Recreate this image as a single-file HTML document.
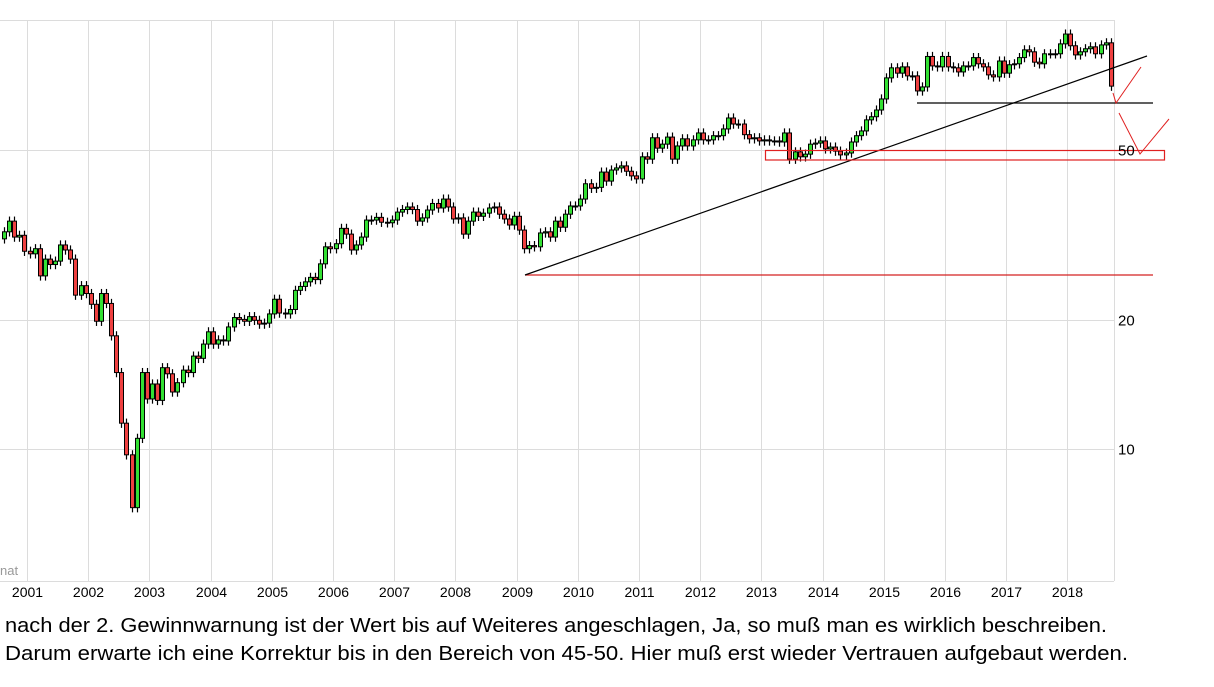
<!DOCTYPE html>
<html><head><meta charset="utf-8"><style>
html,body{margin:0;padding:0;background:#fff;}
svg{display:block;}
</style></head><body>
<svg id="chart" width="1214" height="687" xmlns="http://www.w3.org/2000/svg" font-family="Liberation Sans, sans-serif">
<g id="grid"></g>
<g id="candles"></g>
<g id="overlays"></g>
<g id="axes"></g>
<text x="0" y="575" font-size="13" fill="#999">nat</text>
<text x="5" y="632" font-size="20" fill="#000" textLength="1102" lengthAdjust="spacingAndGlyphs">nach der 2. Gewinnwarnung ist der Wert bis auf Weiteres angeschlagen, Ja, so muß man es wirklich beschreiben.</text>
<text x="5" y="660" font-size="20" fill="#000" textLength="1123" lengthAdjust="spacingAndGlyphs">Darum erwarte ich eine Korrektur bis in den Bereich von 45-50. Hier muß erst wieder Vertrauen aufgebaut werden.</text>
</svg>
<script>
const startYear = 2000, startMonth = 7; // first candle Aug 2000 (0-based month)
const firstOpen = 31.0;
const closes = [
32.2,34.1,31.3,31.6,29.0,28.6,29.4,25.4,27.8,27.0,
27.5,30.0,29.2,27.8,22.9,24.1,23.1,21.8,19.9,23.1,
21.9,18.4,15.1,11.5,9.7,7.3,10.6,15.1,13.1,14.2,
13.0,15.5,15.0,13.6,14.3,15.3,15.1,16.5,16.3,17.6,
18.8,17.6,18.0,17.9,19.3,20.3,20.1,19.9,20.4,20.0,
19.6,19.7,20.7,22.4,20.8,20.7,21.2,23.5,24.0,24.6,
25.2,24.9,
27.1,29.7,29.4,30.2,32.8,31.8,29.2,30.0,31.3,34.3,
34.3,34.8,33.9,33.8,34.3,35.8,36.3,36.8,36.3,34.1,
34.7,36.2,37.5,36.6,38.4,36.8,34.5,34.7,31.8,34.1,
35.8,35.0,35.6,36.6,36.8,35.4,34.5,33.4,35.0,32.5,
29.4,29.9,29.7,32.0,32.2,31.3,34.1,33.0,35.4,37.0,
37.0,38.4,
41.7,40.7,40.9,44.4,42.3,44.9,45.4,45.9,44.6,43.5,
42.8,48.2,47.6,53.4,50.5,51.6,53.6,47.6,51.1,53.1,
51.1,52.8,54.8,52.8,52.8,54.0,54.0,56.0,59.4,57.5,
57.5,54.3,53.1,53.4,52.5,52.8,52.5,52.5,52.2,54.8,
47.6,49.5,48.2,48.9,51.6,51.9,52.5,50.3,50.8,49.7,
48.7,49.2,52.2,54.0,55.4,
58.8,59.8,62.0,65.8,73.7,77.8,75.6,78.2,74.5,74.5,
68.7,70.2,82.7,78.6,78.2,82.7,78.2,77.8,76.1,78.6,
78.6,82.2,79.5,78.2,74.9,74.1,80.7,75.6,79.1,79.5,
82.2,85.7,84.8,80.2,79.5,83.9,83.9,83.9,88.5,93.3,
87.6,83.4,84.8,86.2,87.1,83.9,88.0,89.0,70.5
];
const yTicks = [10, 20, 50];
const yearTicks = [2001,2002,2003,2004,2005,2006,2007,2008,2009,2010,2011,2012,2013,2014,2015,2016,2017,2018];

const NS = "http://www.w3.org/2000/svg";
const PLOT = {left:0, right:1114, top:20, bottom:581};
function yScale(v){ return 150 - 428*(Math.log10(v) - Math.log10(50)); }
function xScale(t){ return 27 + (t - 2001)*61.2; } // t = fractional year
function mk(tag, attrs, parent){ const e=document.createElementNS(NS,tag); for(const k in attrs) e.setAttribute(k,attrs[k]); parent.appendChild(e); return e; }

const grid = document.getElementById('grid');
const axes = document.getElementById('axes');
const cg = document.getElementById('candles');
const ov = document.getElementById('overlays');

mk('line',{x1:0,y1:PLOT.top+0.5,x2:PLOT.right,y2:PLOT.top+0.5,stroke:'#dcdcdc','stroke-width':1},grid);
yearTicks.forEach(yr=>{
  const x = Math.round(xScale(yr))+0.5;
  const l = mk('line',{x1:x,y1:PLOT.top,x2:x,y2:PLOT.bottom,stroke:'#dcdcdc','stroke-width':1},grid);
  
  
  const t = mk('text',{x:x,y:597,'font-size':14,'text-anchor':'middle',fill:'#000'},axes);
  t.textContent = yr;
  
  
});
yTicks.forEach(v=>{
  const y = Math.round(yScale(v))+0.5;
  const l = mk('line',{x1:0,y1:y,x2:PLOT.right,y2:y,stroke:'#dcdcdc','stroke-width':1},grid);
  
  
  const t = mk('text',{x:1118,y:y+5,'font-size':15,fill:'#000'},axes);
  t.textContent = v;
  
  
});
mk('line',{x1:PLOT.right+0.5,y1:PLOT.top,x2:PLOT.right+0.5,y2:PLOT.bottom,stroke:'#dcdcdc','stroke-width':1},grid);
mk('line',{x1:0,y1:PLOT.bottom+0.5,x2:PLOT.right,y2:PLOT.bottom+0.5,stroke:'#dcdcdc','stroke-width':1},grid);

let prev = firstOpen;
closes.forEach((c,i)=>{
  const o = prev; prev = c;
  const m = startMonth + i;
  const t = startYear + m/12 + 0.5/12;
  const x = xScale(t);
  const hi = Math.max(o,c)*1.025, lo = Math.min(o,c)*0.975;
  const g = mk('g',{},cg);
  
  
  const cx = Math.round(x)+0.5;
  mk('line',{x1:cx,y1:yScale(hi),x2:cx,y2:yScale(lo),stroke:'#000','stroke-width':1.2},g);
  const y1 = yScale(Math.max(o,c)), y2 = yScale(Math.min(o,c));
  mk('rect',{x:cx-2,y:y1,width:4,height:Math.max(1,y2-y1),fill:c>=o?'#33e033':'#ee4040',stroke:'#000','stroke-width':1},g);
});

function line(x1,y1,x2,y2,col,name){ const l=mk('line',{x1,y1,x2,y2,stroke:col,'stroke-width':1.2},ov);   }
line(525,275,1153,275,'#d42020','support-line-red');
line(525,275,1147,56,'#000','trend-line');
line(917,103,1153,103,'#000','support-line-black');
const r = mk('rect',{x:765.5,y:150.5,width:399,height:9.5,fill:'none',stroke:'#e02020','stroke-width':1.2},ov);


const p1 = mk('polyline',{points:'1113,93 1116,103 1141,67',fill:'none',stroke:'#e02020','stroke-width':1},ov);


const p2 = mk('polyline',{points:'1119,113 1140,154 1169,119',fill:'none',stroke:'#e02020','stroke-width':1},ov);


</script>
</body></html>
